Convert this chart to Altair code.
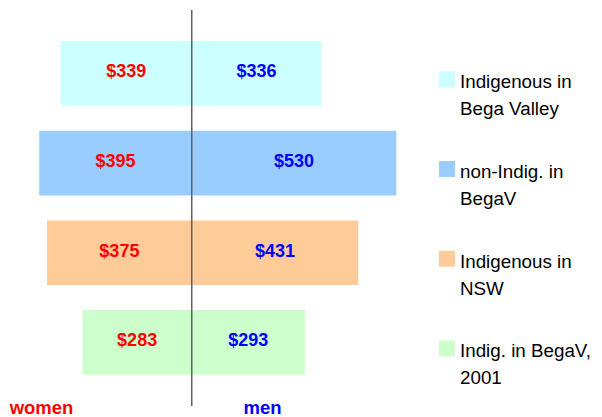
import altair as alt
import pandas as pd

groups = ["Indigenous in Bega Valley", "non-Indig. in BegaV", "Indigenous in NSW", "Indig. in BegaV, 2001"]
legend_text = ["Indigenous in\nBega Valley", "non-Indig. in\nBegaV", "Indigenous in\nNSW", "Indig. in BegaV,\n2001"]
women = [339, 395, 375, 283]
men = [336, 530, 431, 293]
colors = ["#CCFFFF", "#99CCFF", "#FFCC99", "#CCFFCC"]
sides = ["women", "men"]
side_colors = ["#FF0000", "#0000FF"]

rows = []
for g, w, m in zip(groups, women, men):
    rows.append({"group": g, "sex": "women", "start": -w, "end": 0, "mid": -w / 2, "label": f"${w}"})
    rows.append({"group": g, "sex": "men", "start": 0, "end": m, "mid": m / 2, "label": f"${m}"})
df = pd.DataFrame(rows)
leg = pd.DataFrame({"group": groups, "text": legend_text})

FONT = "Liberation Sans"
xs = alt.Scale(domain=[-476, 1042], nice=False, zero=False)
ys = alt.Scale(domain=groups, range=[33, 366.8], paddingInner=0.279, paddingOuter=0)
cs = alt.Scale(domain=groups, range=colors)

base = alt.Chart(df)
bars = base.mark_bar(opacity=1).encode(
    x=alt.X("start:Q", scale=xs, axis=None),
    x2="end:Q",
    y=alt.Y("group:N", scale=ys, axis=None),
    color=alt.Color("group:N", scale=cs, legend=None),
)
labels = base.mark_text(font=FONT, fontSize=18, fontWeight="bold", baseline="middle", dy=-1).encode(
    x=alt.X("mid:Q", scale=xs),
    y=alt.Y("group:N", scale=ys),
    text="label:N",
    color=alt.Color("sex:N", scale=alt.Scale(domain=sides, range=side_colors), legend=None),
)
rule = alt.Chart(pd.DataFrame({"v": [0]})).mark_rule(color="#606060", strokeWidth=1.5).encode(
    x=alt.X("v:Q", scale=xs), y=alt.value(2), y2=alt.value(398)
)
swatch = alt.Chart(leg).mark_square(size=256, opacity=1, filled=True, yOffset=6).encode(
    x=alt.value(439),
    y=alt.Y("group:N", scale=ys),
    color=alt.Color("group:N", scale=cs, legend=None),
)
legtext = alt.Chart(leg).mark_text(
    font=FONT, fontSize=18.8, align="left", baseline="alphabetic", dy=15, lineHeight=27, lineBreak="\n", color="black"
).encode(
    x=alt.value(452),
    y=alt.Y("group:N", scale=ys),
    text="text:N",
)
sdf = pd.DataFrame({"sex": sides})
women_lbl = alt.Chart(sdf).transform_filter(alt.datum.sex == "women").mark_text(
    font=FONT, fontSize=18.5, fontWeight="bold", baseline="alphabetic", color=side_colors[0]
).encode(x=alt.value(33.5), y=alt.value(406), text="sex:N")
men_lbl = alt.Chart(sdf).transform_filter(alt.datum.sex == "men").mark_text(
    font=FONT, fontSize=18.5, fontWeight="bold", baseline="alphabetic", color=side_colors[1]
).encode(x=alt.value(254.5), y=alt.value(406), text="sex:N")

chart = alt.layer(bars, rule, labels, swatch, legtext, women_lbl, men_lbl).resolve_scale(
    color="independent"
).properties(
    width=586, height=409, padding=0, autosize=alt.AutoSizeParams(type="none")
).configure_view(stroke=None)

chart.save("out.html", embed_options={"renderer": "svg", "actions": False})
